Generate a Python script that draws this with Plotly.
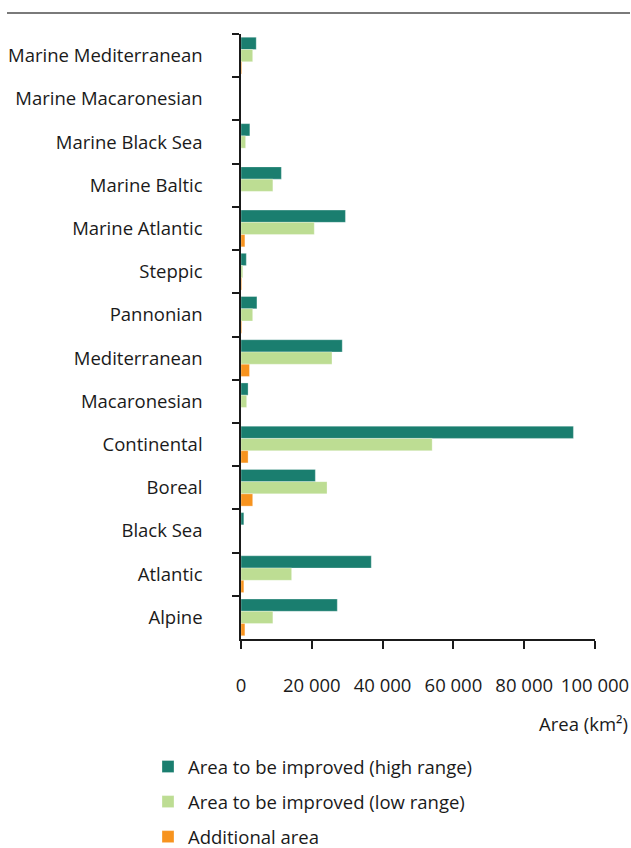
import plotly.graph_objects as go

regions = [
    "Marine Mediterranean", "Marine Macaronesian", "Marine Black Sea", "Marine Baltic",
    "Marine Atlantic", "Steppic", "Pannonian", "Mediterranean", "Macaronesian",
    "Continental", "Boreal", "Black Sea", "Atlantic", "Alpine",
]
high_range = [4300, 0, 2500, 11400, 29500, 1500, 4500, 28600, 2000, 93900, 21000, 800, 36800, 27200]
low_range = [3300, 0, 1300, 9000, 20700, 500, 3300, 25700, 1600, 54000, 24300, 0, 14300, 9000]
additional = [200, 0, 0, 0, 1100, 200, 200, 2400, 0, 2000, 3300, 0, 800, 1100]

series_names = [
    "Area to be improved (high range)",
    "Area to be improved (low range)",
    "Additional area",
]
colors = ["#1A7E6F", "#BDDD93", "#F7931E"]
x_ticks = [0, 20000, 40000, 60000, 80000, 100000]

FONT = "Open Sans, Noto Sans, sans-serif"
FS = 18.5
TXT = "#1a1a1a"

fig = go.Figure()
for name, vals, col in zip(series_names, [high_range, low_range, additional], colors):
    fig.add_trace(go.Bar(
        y=regions, x=vals, name=name, orientation="h",
        marker=dict(color=col, line=dict(color="rgba(255,255,255,0.5)", width=0.6)),
        legendgroup=name,
    ))

PW, PH = 354, 605  # plot area size in px

fig.update_layout(
    width=631, height=848,
    paper_bgcolor="white", plot_bgcolor="white",
    margin=dict(l=241, r=36, t=34, b=209, autoexpand=False),
    barmode="group", bargap=0.15, bargroupgap=0,
    separators=". ",
    font=dict(family=FONT, size=FS, color=TXT),
    showlegend=True,
    legend=dict(
        orientation="v", x=-93 / PW, xanchor="left", y=-109 / PH, yanchor="top",
        font=dict(size=FS, color=TXT),
        traceorder="grouped", tracegroupgap=8,
        bgcolor="rgba(0,0,0,0)",
    ),
    xaxis=dict(
        range=[0, 100000], tickvals=x_ticks, tickformat=",d",
        showgrid=False, zeroline=False, automargin=False,
        showline=True, linecolor=TXT, linewidth=1.5,
        ticks="outside", ticklen=8, tickwidth=1.5, tickcolor=TXT,
        ticklabelstandoff=21,
        tickfont=dict(size=FS, color=TXT),
    ),
    yaxis=dict(
        categoryorder="array", categoryarray=regions, autorange="reversed",
        showgrid=False, zeroline=False, automargin=False,
        showline=True, linecolor=TXT, linewidth=1.5,
        ticks="outside", ticklen=7, tickwidth=1.5, tickcolor=TXT,
        tickson="boundaries",
        ticklabelstandoff=33,
        tickfont=dict(size=FS, color=TXT),
    ),
)

fig.add_annotation(
    text="Area (km²)", xref="paper", yref="paper",
    x=1.0 + 35 / PW, y=-84 / PH, xanchor="right", yanchor="middle",
    showarrow=False, font=dict(size=FS, color=TXT),
)

fig.add_shape(
    type="line", xref="paper", yref="paper",
    x0=-234 / PW, x1=1 + 35 / PW, y0=1 + 21 / PH, y1=1 + 21 / PH,
    line=dict(color="#7a7a7a", width=2),
)

fig.write_html(
    "out.html",
    config={"displayModeBar": False},
    post_script="document.body.style.margin='0';document.body.style.overflow='hidden';",
)
